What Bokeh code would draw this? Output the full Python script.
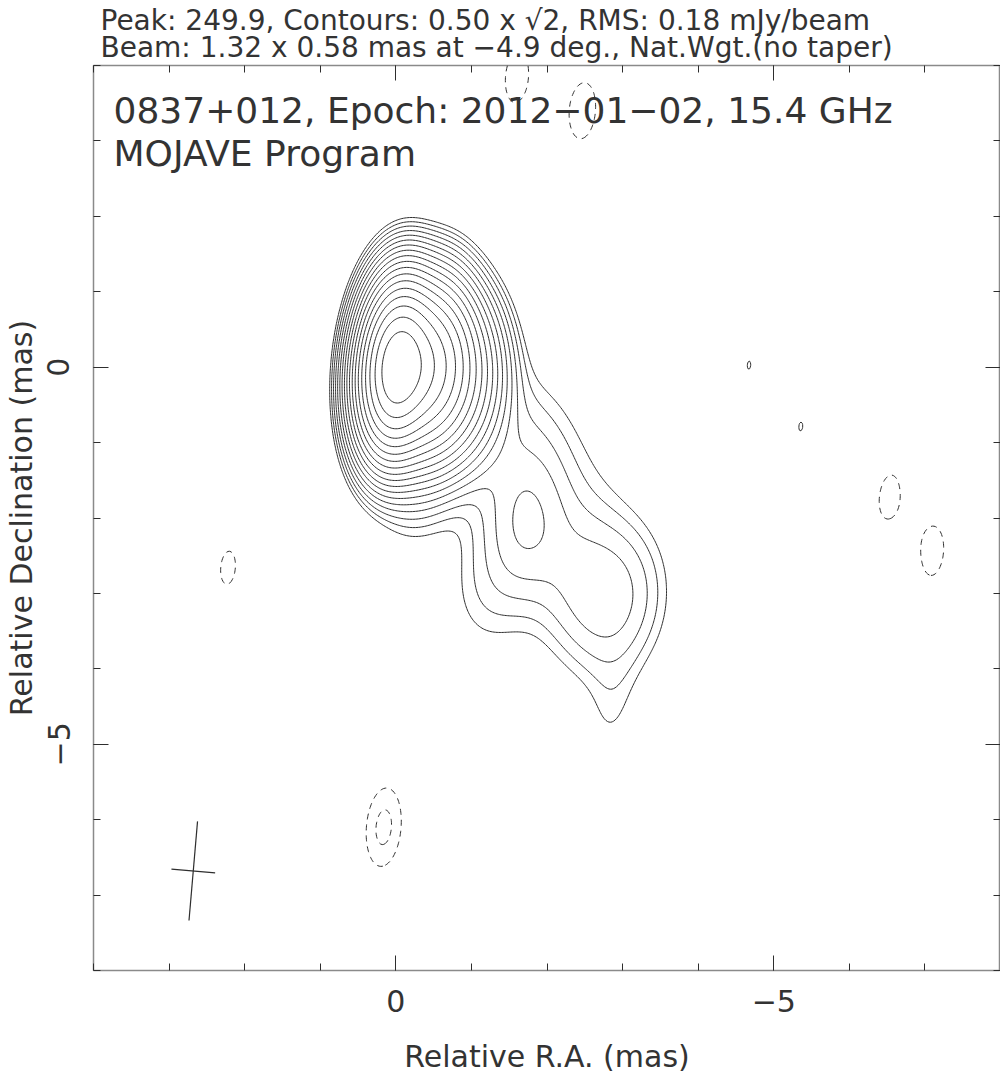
import numpy as np
from bokeh.plotting import figure
from bokeh.models import Range1d, LinearAxis, FixedTicker, Label, Title
from bokeh.embed import file_html
from bokeh.resources import INLINE

# ---------------- map header values ----------------
source_name = "0837+012"
epoch = "2012\u221201\u221202"
frequency_ghz = 15.4
peak_mjy = 249.9
base_contour = 0.50
rms_mjy = 0.18
beam_maj = 1.32
beam_min = 0.58
beam_pa = -4.9
beam_ra0 = 2.68
beam_dec0 = -6.68

# ---------------- source model components ----------------
# offsets (mas), restored peak brightness (mJy/beam), intrinsic FWHM (mas)
comp_ra = [0.00, -0.45, -0.85, -1.55, -1.72, -2.25, -2.80, -2.85, -1.10, -0.25, -2.55, -1.35]
comp_dec = [0.00, -0.02, -0.20, -1.10, -2.10, -2.55, -3.05, -4.62, -2.90, -1.45, -1.60, -3.10]
comp_peak = [226.0, 95.0, 16.0, 1.0, 1.5, 0.5, 1.75, 0.40, 0.32, 0.90, 0.22, 0.30]
comp_fwhm = [0.00, 0.35, 0.45, 1.20, 0.55, 0.60, 1.00, 0.10, 0.70, 0.50, 0.90, 0.80]

# residual noise features
noise_ra = [-1.60, -2.47, 2.22, 0.16, -6.44, -6.60, -7.11, -4.67, -5.36]
noise_dec = [3.85, 3.40, -2.66, -6.10, -1.86, -1.56, -2.45, 0.03, -0.79]
noise_peak = [-0.60, -0.62, -0.54, -0.77, -0.30, -0.30, -0.58, 0.5005, 0.501]
noise_fwhm = [0.00, 0.20, 0.00, 0.00, 0.00, 0.00, 0.00, 0.00, 0.00]

# axes
ra_limits = (4, -8)
dec_limits = (-8, 4)
major_ticks = [0, -5]
minor_ticks = list(range(-8, 5))
tick_labels = {0: "0", -5: "\u22125"}

FONT = "DejaVu Sans"
INK = "#333333"
LINE = "#2e2e2e"

# ---------------- build restored image ----------------
ra_grid = np.linspace(-8, 4, 601)
dec_grid = np.linspace(-8, 4, 601)
RA, DEC = np.meshgrid(ra_grid, dec_grid)
s_maj = beam_maj / 2.3548
s_min = beam_min / 2.3548
pa = np.deg2rad(beam_pa)
image = np.zeros_like(RA)
for x0, y0, pk, fw in zip(comp_ra + noise_ra, comp_dec + noise_dec,
                          comp_peak + noise_peak, comp_fwhm + noise_fwhm):
    sc = fw / 2.3548
    su = np.sqrt(s_maj ** 2 + sc ** 2)
    sv = np.sqrt(s_min ** 2 + sc ** 2)
    dx = RA - x0
    dy = DEC - y0
    u = dx * np.sin(pa) + dy * np.cos(pa)
    v = dx * np.cos(pa) - dy * np.sin(pa)
    image += pk * np.exp(-0.5 * (u ** 2 / su ** 2 + v ** 2 / sv ** 2))

pos_levels = []
lev = base_contour
while lev < peak_mjy:
    pos_levels.append(lev)
    lev *= np.sqrt(2)
neg_levels = [-base_contour * np.sqrt(2), -base_contour]

# ---------------- figure ----------------
p = figure(width=1000, height=1078, output_backend="svg", toolbar_location=None,
           x_range=Range1d(*ra_limits), y_range=Range1d(*dec_limits),
           min_border_left=93, min_border_right=0, min_border_top=62,
           min_border_bottom=108, background_fill_color="white",
           border_fill_color="white")
p.grid.visible = False
p.outline_line_color = "#8a8a8a"
p.outline_line_width = 1.5

ticker = FixedTicker(ticks=major_ticks, minor_ticks=minor_ticks)


def style_axis(ax, labels=True):
    ax.ticker = ticker
    ax.axis_line_color = None
    ax.major_tick_in = 15
    ax.major_tick_out = 0
    ax.minor_tick_in = 7
    ax.minor_tick_out = 0
    ax.major_tick_line_color = LINE
    ax.minor_tick_line_color = LINE
    ax.major_tick_line_width = 1
    ax.minor_tick_line_width = 1
    if labels:
        ax.major_label_overrides = tick_labels
        ax.major_label_text_font = FONT
        ax.major_label_text_font_size = "30px"
        ax.major_label_text_color = INK
        ax.axis_label_text_font = FONT
        ax.axis_label_text_font_size = "30px"
        ax.axis_label_text_font_style = "normal"
        ax.axis_label_text_color = INK
    else:
        ax.major_label_text_font_size = "0px"
        ax.major_label_text_color = None
        ax.major_label_standoff = 0
        ax.axis_label_standoff = 0


style_axis(p.xaxis[0])
style_axis(p.yaxis[0])
p.xaxis.axis_label = "Relative R.A. (mas)"
p.yaxis.axis_label = "Relative Declination (mas)"
p.xaxis.major_label_standoff = 19
p.xaxis.axis_label_standoff = 24
p.yaxis.major_label_standoff = 24
p.yaxis.axis_label_standoff = 6
p.yaxis.major_label_orientation = "vertical"

top_ax = LinearAxis()
style_axis(top_ax, labels=False)
p.add_layout(top_ax, "above")
right_ax = LinearAxis()
style_axis(right_ax, labels=False)
p.add_layout(right_ax, "right")

line1 = (f"Peak: {peak_mjy:.1f}, Contours: {base_contour:.2f} x \u221a2, "
         f"RMS: {rms_mjy:.2f} mJy/beam")
line2 = (f"Beam: {beam_maj:.2f} x {beam_min:.2f} mas at \u2212{abs(beam_pa):.1f} deg., "
         "Nat.Wgt.(no taper)")
p.add_layout(Title(text=line1 + "\n" + line2, align="left", offset=7,
                   text_font=FONT, text_font_size="28px",
                   text_font_style="normal", text_line_height=0.81,
                   text_color=INK, standoff=3), "above")

# contours
p.contour(ra_grid, dec_grid, image, levels=pos_levels,
          line_color=LINE, line_width=1.0)
p.contour(ra_grid, dec_grid, image, levels=neg_levels,
          line_color=LINE, line_width=1.0, line_dash="6 5")

# restoring beam cross
pa_s, pa_c = np.sin(pa), np.cos(pa)
bx0 = [beam_ra0 - 0.5 * beam_maj * pa_s, beam_ra0 - 0.5 * beam_min * pa_c]
by0 = [beam_dec0 - 0.5 * beam_maj * pa_c, beam_dec0 + 0.5 * beam_min * pa_s]
bx1 = [beam_ra0 + 0.5 * beam_maj * pa_s, beam_ra0 + 0.5 * beam_min * pa_c]
by1 = [beam_dec0 + 0.5 * beam_maj * pa_c, beam_dec0 - 0.5 * beam_min * pa_s]
p.segment(x0=bx0, y0=by0, x1=bx1, y1=by1, line_color=LINE, line_width=1.2)

# in-frame annotation
p.add_layout(Label(x=3.735, y=3.405,
                   text=f"{source_name}, Epoch: {epoch}, {frequency_ghz} GHz",
                   text_font=FONT, text_font_size="36px", text_color=INK,
                   text_baseline="middle", text_align="left"))
p.add_layout(Label(x=3.735, y=2.837, text="MOJAVE Program",
                   text_font=FONT, text_font_size="36px", text_color=INK,
                   text_baseline="middle", text_align="left"))

open("out.html", "w").write(file_html(p, INLINE))
